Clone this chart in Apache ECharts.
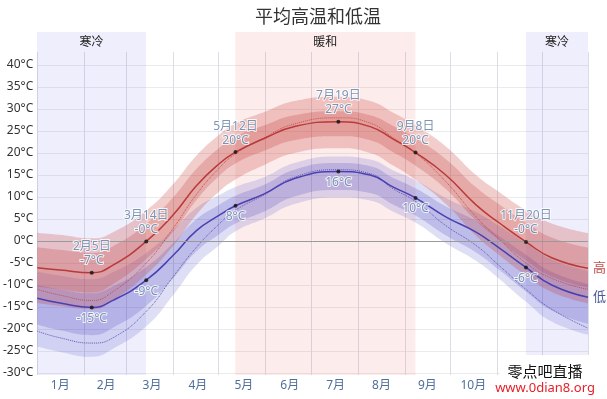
<!DOCTYPE html>
<html>
<head>
<meta charset="utf-8">
<title>平均高温和低温</title>
<script src="https://cdn.jsdelivr.net/npm/echarts@6/dist/echarts.min.js"></script>
<style>
  html, body { margin: 0; padding: 0; background: #fff; }
  #main { width: 607px; height: 399px; }
</style>
</head>
<body>
<div id="main"></div>
<script>
// 采样日期：一年中的第几天（0 = 1月1日）
var days = [0, 15, 36, 50, 72, 90, 105, 120, 131, 150, 170, 199, 220, 235, 250, 270, 290, 305, 323, 340, 364]

// 平均高温 + 百分位带 + 体感
var highAvg  = [-6.1, -6.6, -7.2, -5.5, -0.1, 6.0, 12.5, 17.5, 20.2, 23.3, 26.0, 27.1, 26.0, 23.2, 20.1, 15.0, 8.2, 4.2, -0.2, -3.8, -6.2]
var highP90  = [1.9, 1.4, 0.6, 2.0, 6.9, 13.0, 19.3, 24.1, 26.7, 29.3, 31.8, 32.8, 31.8, 29.2, 26.3, 21.5, 15.0, 11.2, 7.0, 4.0, 1.8]
var highP75  = [-1.4, -2.0, -2.7, -1.2, 3.9, 10.0, 16.3, 21.1, 23.7, 26.3, 28.6, 29.5, 28.6, 26.2, 23.4, 18.6, 12.2, 8.4, 4.2, 0.8, -1.5]
var highP25  = [-10.4, -11.0, -11.7, -9.8, -4.1, 2.2, 9.2, 14.7, 17.6, 20.5, 22.9, 23.8, 22.9, 20.2, 17.1, 11.8, 4.6, 0.3, -4.4, -8.1, -10.5]
var highP10  = [-14.1, -14.8, -15.5, -13.5, -7.6, -1.0, 5.9, 11.2, 14.0, 17.3, 20.0, 21.1, 20.0, 17.2, 13.9, 8.4, 1.2, -3.1, -7.8, -11.6, -14.2]
var highFeel = [-11.0, -12.3, -13.5, -11.5, -5.0, 3.0, 10.5, 16.5, 19.8, 23.5, 26.6, 28.0, 26.8, 23.5, 20.0, 13.5, 5.5, 0.5, -5.0, -8.5, -11.0]

// 平均低温 + 百分位带 + 体感
var lowAvg  = [-13.0, -14.1, -15.1, -13.5, -8.9, -3.2, 2.3, 5.8, 8.0, 10.7, 14.2, 15.8, 15.0, 12.3, 9.8, 5.5, 2.0, -1.5, -6.0, -10.0, -12.8]
var lowP90  = [-7.0, -7.9, -8.7, -7.1, -2.7, 2.6, 7.5, 10.4, 12.3, 14.5, 17.7, 19.2, 18.5, 16.1, 13.8, 9.8, 6.6, 3.5, -0.5, -4.2, -6.8]
var lowP75  = [-10.0, -11.0, -11.9, -10.3, -5.9, -0.4, 4.9, 8.2, 10.3, 12.8, 16.2, 17.7, 17.0, 14.4, 12.0, 7.9, 4.6, 1.2, -3.1, -7.0, -9.8]
var lowP25  = [-19.0, -20.3, -21.4, -19.7, -14.7, -8.4, -2.4, 1.5, 4.0, 6.7, 10.1, 11.6, 10.9, 8.3, 5.8, 1.3, -2.6, -6.5, -11.5, -15.8, -18.8]
var lowP10  = [-24.0, -25.2, -26.3, -24.5, -19.4, -12.2, -5.5, -1.0, 2.2, 5.1, 8.4, 9.9, 9.2, 6.7, 4.2, -0.5, -4.5, -8.5, -13.8, -18.3, -21.3]
var lowFeel = [-20.5, -22.0, -23.2, -22.0, -16.0, -8.0, -1.5, 3.8, 7.0, 10.5, 14.5, 16.2, 15.3, 11.9, 9.0, 3.5, -1.0, -5.5, -11.0, -15.5, -19.8]

var months = ['1月', '2月', '3月', '4月', '5月', '6月', '7月', '8月', '9月', '10月', '11月', '12月']

// 标注点
var markDays     = [36, 72, 131, 199, 250, 323]
var markDates    = ['2月5日', '3月14日', '5月12日', '7月19日', '9月8日', '11月20日']
var highMarks    = [-7.2, -0.1, 20.2, 27.1, 20.1, -0.2]
var highMarkText = ['-7°C', '-0°C', '20°C', '27°C', '20°C', '-0°C']
var lowMarks     = [-15.1, -8.9, 8.0, 15.8, 9.8, -6.0]
var lowMarkText  = ['-15°C', '-9°C', '8°C', '16°C', '10°C', '-6°C']

// 季节带
var seasonStart = [0, 131, 323]
var seasonEnd   = [72, 250, 364]
var seasonName  = ['寒冷', '暖和', '寒冷']
var seasonCold  = [true, false, true]

var DAY = 24 * 3600 * 1000
function ts (d) { return new Date(2023, 0, 1 + d).getTime() }
function pairs (vals) { return days.map(function (d, i) { return [ts(d), vals[i]] }) }
function diffPairs (top, bottom) {
  return days.map(function (d, i) { return [ts(d), +(top[i] - bottom[i]).toFixed(2)] })
}

// 百分位带：下沿 + 差值堆叠
function band (name, lower, upper, color) {
  var common = {
    type: 'line', stack: name, stackStrategy: 'all', smooth: true, symbol: 'none',
    silent: true, xAxisIndex: 0, yAxisIndex: 0, lineStyle: { opacity: 0 }
  }
  return [
    Object.assign({ name: name + '_base', data: pairs(lower) }, common),
    Object.assign({ name: name, data: diffPairs(upper, lower), areaStyle: { color: color, opacity: 1 } }, common)
  ]
}

var labelColor = '#5b7ba3'

var series = [
  // 季节背景
  {
    type: 'line', xAxisIndex: 2, yAxisIndex: 1, data: [[ts(0), 0]], symbol: 'none',
    lineStyle: { opacity: 0 }, silent: true,
    markArea: {
      silent: true,
      label: { show: true, position: 'insideTop', distance: 5, color: '#222', fontSize: 12 },
      data: seasonStart.map(function (s, i) {
        return [
          { xAxis: ts(s), name: seasonName[i], itemStyle: { color: seasonCold[i] ? 'rgba(120,120,230,0.13)' : 'rgba(240,110,110,0.13)' } },
          { xAxis: ts(seasonEnd[i]) }
        ]
      })
    }
  }
]
  .concat(band('lowOuter', lowP10, lowP90, 'rgba(80,80,200,0.19)'))
  .concat(band('lowInner', lowP25, lowP75, 'rgba(70,60,190,0.21)'))
  .concat(band('highOuter', highP10, highP90, 'rgba(200,60,50,0.25)'))
  .concat(band('highInner', highP25, highP75, 'rgba(190,50,50,0.24)'))
  .concat([
    {
      name: '高体感', type: 'line', data: pairs(highFeel), smooth: true, symbol: 'none', silent: true,
      lineStyle: { color: '#c05050', width: 1, type: 'dotted' }
    },
    {
      name: '低体感', type: 'line', data: pairs(lowFeel), smooth: true, symbol: 'none', silent: true,
      lineStyle: { color: '#5a55b0', width: 1, type: 'dotted' }
    },
    {
      name: '高', type: 'line', data: pairs(highAvg), smooth: true, symbol: 'none', silent: true,
      lineStyle: { color: '#b93a3a', width: 1.5 },
      endLabel: { show: true, formatter: '高', color: '#c0504d', fontSize: 13, distance: 5 },
      markLine: {
        silent: true, symbol: ['none', 'none'], label: { show: false },
        lineStyle: { color: '#9a9a9a', type: 'solid', width: 1 },
        data: [{ yAxis: 0 }]
      }
    },
    {
      name: '低', type: 'line', data: pairs(lowAvg), smooth: true, symbol: 'none', silent: true,
      lineStyle: { color: '#4b40b0', width: 1.5 },
      endLabel: { show: true, formatter: '低', color: '#4a5a9a', fontSize: 13, distance: 5 }
    },
    {
      type: 'scatter', symbolSize: 4, itemStyle: { color: '#111' }, z: 5, silent: true,
      label: {
        show: true, position: 'top', distance: 3, color: labelColor, fontSize: 12, lineHeight: 14,
        textBorderColor: '#fff', textBorderWidth: 2
      },
      data: markDays.map(function (d, i) {
        return { value: [ts(d), highMarks[i]], label: { formatter: markDates[i] + '\n' + highMarkText[i] } }
      })
    },
    {
      type: 'scatter', symbolSize: 4, itemStyle: { color: '#111' }, z: 5, silent: true,
      label: {
        show: true, position: 'bottom', distance: 3, color: labelColor, fontSize: 12,
        textBorderColor: '#fff', textBorderWidth: 2
      },
      data: markDays.map(function (d, i) {
        return { value: [ts(d), lowMarks[i]], label: { formatter: lowMarkText[i] } }
      })
    }
  ])

var option = {
  animation: false,
  textStyle: { fontFamily: '"Noto Sans", "Noto Sans CJK SC", sans-serif' },
  title: {
    text: '平均高温和低温', left: 250, top: 4,
    textStyle: { fontSize: 18, fontWeight: 'normal', color: '#333' }
  },
  grid: [
    { left: 37, right: 19, top: 65, bottom: 26 },
    { left: 37, right: 19, top: 32, bottom: 24 },
    { left: 37, right: 19, top: 52, bottom: 24 }
  ],
  xAxis: [
    {
      type: 'time', gridIndex: 0, min: ts(0), max: ts(364),
      axisLine: { show: false }, axisTick: { show: false }, axisLabel: { show: false }, splitLine: { show: false }
    },
    {
      type: 'category', gridIndex: 0, data: months, boundaryGap: true, position: 'bottom',
      axisLine: { show: false }, axisTick: { show: false }, splitLine: { show: false },
      axisLabel: { color: '#4f6f9a', fontSize: 12, margin: 7 }
    },
    { type: 'time', gridIndex: 1, min: ts(0), max: ts(364), show: false },
    {
      type: 'time', gridIndex: 2, min: ts(0), max: ts(364), splitNumber: 12,
      minInterval: 28 * DAY, maxInterval: 31 * DAY,
      axisLine: { show: false }, axisTick: { show: false }, axisLabel: { show: false },
      splitLine: { show: true, lineStyle: { color: '#dcdce6' } }
    }
  ],
  yAxis: [
    {
      type: 'value', gridIndex: 0, min: -30, max: 40, interval: 5,
      axisLine: { show: false }, axisTick: { show: false },
      axisLabel: { formatter: '{value}°C', color: '#333', fontSize: 12, margin: 4 },
      splitLine: { lineStyle: { color: '#ebebeb' } }
    },
    { type: 'value', gridIndex: 1, min: 0, max: 1, show: false },
    { type: 'value', gridIndex: 2, min: 0, max: 1, show: false }
  ],
  series: series,
  // 水印
  graphic: [
    { type: 'rect', left: 488, top: 376, shape: { width: 119, height: 23 }, style: { fill: '#fff' }, z: 100 },
    { type: 'rect', left: 500, top: 355, shape: { width: 107, height: 44 }, style: { fill: '#fff' }, z: 100 },
    {
      type: 'text', x: 545, y: 371, z: 101,
      style: { text: '零点吧直播', fill: '#111', font: '15px "Noto Sans CJK SC"', align: 'center', verticalAlign: 'middle', textAlign: 'center', textVerticalAlign: 'middle' }
    },
    {
      type: 'text', x: 545, y: 388, z: 101,
      style: { text: 'www.0dian8.org', fill: '#e62129', font: '13px "Noto Sans", sans-serif', align: 'center', verticalAlign: 'middle', textAlign: 'center', textVerticalAlign: 'middle' }
    }
  ]
}

var myChart = echarts.init(document.getElementById('main'))
myChart.setOption(option)
</script>
</body>
</html>
